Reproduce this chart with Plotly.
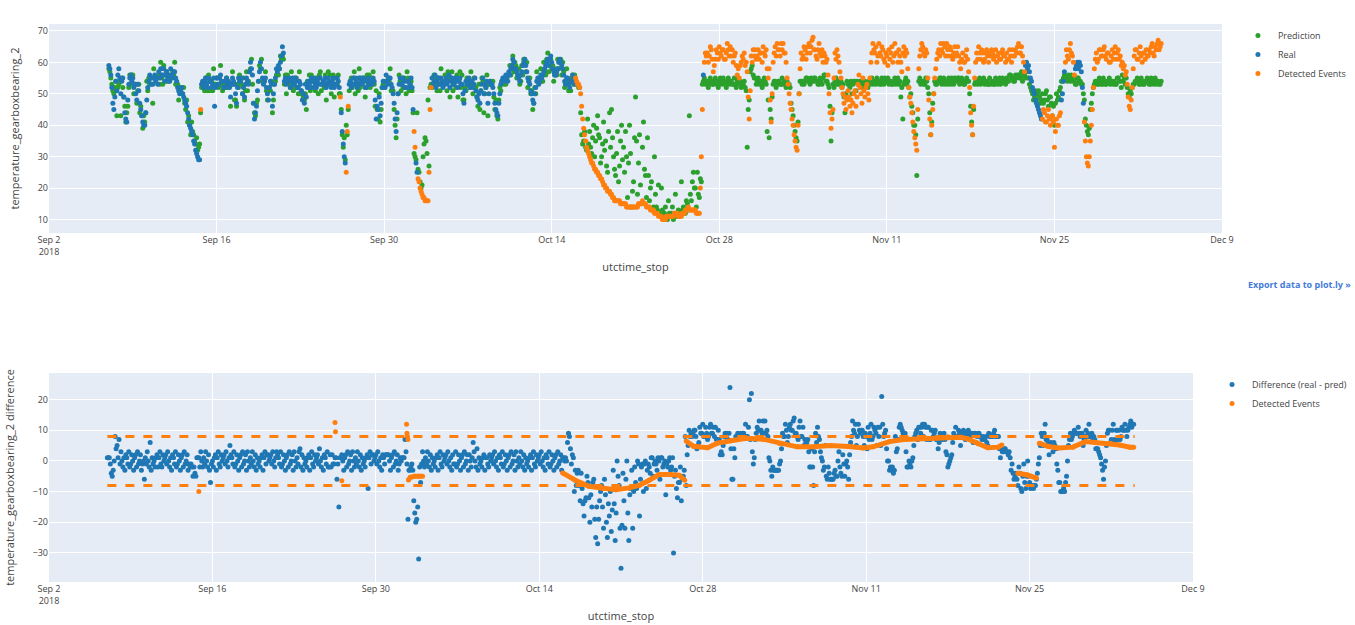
import numpy as np
import pandas as pd
import plotly.graph_objects as go

# ---------------- data ----------------
series_start = "2018-09-07 00:00"   # 12 readings per day, every 2 hours
series_step = "2h"

# temperature_gearboxbearing_2, measured (one row per day)
real_temp = [
    59, 58, 56, 52, 47, 45, 49, 54, 51, 56, 58, 55,  # Sep 7
    50, 54, 55, 49, 44, 42, 41, 48, 53, 55, 56, 54,  # Sep 8
    55, 52, 53, 50, 48, 53, 51, 47, 45, 43, 41, 40,  # Sep 9
    40, 44, 48, 52, 54, 56, 55, 53, 53, 55, 56, 54,  # Sep 10
    55, 53, 57, 55, 58, 56, 56, 58, 54, 56, 57, 55,  # Sep 11
    56, 54, 58, 56, 55, 57, 57, 55, 54, 52, 51, 50,  # Sep 12
    51, 52, 50, 49, 48, 47, 46, 44, 42, 40, 39, 38,  # Sep 13
    37, 35, 34, 32, 31, 30, 29, 29, 45, 53, 54, 52,  # Sep 14
    54, 55, 53, 52, 55, 54, 54, 52, 53, 55, 46, 52,  # Sep 15
    55, 53, 53, 55, 56, 54, 54, 52, 52, 54, 55, 53,  # Sep 16
    54, 52, 49, 53, 55, 54, 53, 50, 47, 52, 55, 54,  # Sep 17
    54, 55, 50, 52, 49, 53, 55, 54, 53, 57, 60, 58,  # Sep 18
    56, 47, 42, 44, 46, 51, 54, 57, 60, 58, 55, 53,  # Sep 19
    54, 55, 52, 50, 48, 52, 54, 53, 46, 50, 53, 55,  # Sep 20
    58, 57, 59, 58, 60, 62, 65, 63, 54, 55, 53, 54,  # Sep 21
    54, 55, 52, 54, 55, 53, 53, 55, 54, 52, 52, 54,  # Sep 22
    53, 51, 48, 50, 47, 53, 49, 52, 54, 53, 52, 55,  # Sep 23
    54, 52, 55, 53, 52, 54, 53, 55, 55, 53, 53, 54,  # Sep 24
    54, 55, 52, 53, 55, 54, 53, 52, 54, 55, 52, 53,  # Sep 25
    53, 55, 54, 52, 49, 44, 38, 34, 30, 28, 25, 38,  # Sep 26
    46, 53, 54, 52, 53, 55, 55, 53, 54, 52, 53, 55,  # Sep 27
    55, 54, 53, 55, 54, 52, 52, 54, 55, 53, 53, 54,  # Sep 28
    53, 55, 54, 48, 42, 46, 45, 49, 43, 47, 52, 54,  # Sep 29
    54, 52, 56, 54, 53, 55, 55, 53, 52, 50, 47, 42,  # Sep 30
    38, 44, 50, 53, 55, 53, 53, 55, 54, 52, 52, 54,  # Oct 1
    54, 52, 53, 55, 52, 45, 38, 33, 28, 25, 23, 22,  # Oct 2
    20, 19, 18, 17, 17, 16, 16, 16, 16, 25, 45, 52,  # Oct 3
    55, 53, 54, 56, 52, 54, 55, 53, 53, 55, 54, 52,  # Oct 4
    53, 54, 55, 53, 54, 56, 52, 54, 55, 53, 53, 55,  # Oct 5
    54, 55, 52, 54, 55, 53, 53, 50, 47, 51, 54, 53,  # Oct 6
    53, 55, 52, 54, 54, 52, 53, 55, 51, 49, 48, 50,  # Oct 7
    47, 51, 53, 55, 50, 53, 52, 54, 47, 50, 54, 53,  # Oct 8
    53, 52, 50, 47, 45, 44, 43, 47, 50, 53, 54, 55,  # Oct 9
    55, 54, 56, 55, 54, 57, 56, 58, 59, 61, 60, 58,  # Oct 10
    58, 57, 56, 55, 54, 56, 57, 59, 60, 61, 59, 57,  # Oct 11
    55, 54, 53, 51, 50, 48, 47, 50, 52, 54, 55, 53,  # Oct 12
    54, 56, 55, 56, 57, 58, 59, 60, 61, 59, 61, 62,  # Oct 13
    60, 58, 57, 56, 56, 57, 58, 60, 61, 60, 59, 58,  # Oct 14
    56, 54, 53, 55, 55, 53, 52, 54, 54, 56, 55, 53,  # Oct 15
    55, 54, 53, 53, 52, 50, 46, 42, 39, 37, 35, 33,  # Oct 16
    32, 31, 30, 29, 28, 28, 27, 26, 26, 25, 25, 24,  # Oct 17
    24, 23, 23, 22, 21, 21, 20, 20, 19, 19, 19, 18,  # Oct 18
    18, 17, 17, 16, 16, 16, 16, 16, 16, 15, 15, 15,  # Oct 19
    15, 15, 15, 14, 14, 14, 14, 14, 14, 14, 14, 14,  # Oct 20
    14, 14, 14, 15, 15, 15, 15, 16, 15, 15, 15, 14,  # Oct 21
    14, 14, 14, 13, 13, 13, 13, 12, 12, 12, 12, 11,  # Oct 22
    11, 11, 11, 10, 10, 10, 10, 11, 11, 11, 11, 11,  # Oct 23
    11, 11, 11, 12, 12, 12, 12, 11, 11, 11, 11, 12,  # Oct 24
    12, 12, 13, 13, 13, 14, 13, 13, 13, 13, 13, 13,  # Oct 25
    13, 12, 12, 12, 12, 20, 30, 45, 56, 60, 63, 62,  # Oct 26
    63, 60, 62, 65, 64, 61, 57, 59, 61, 64, 63, 61,  # Oct 27
    65, 63, 62, 64, 64, 61, 61, 63, 66, 64, 62, 65,  # Oct 28
    62, 64, 60, 62, 63, 59, 56, 58, 55, 59, 60, 62,  # Oct 29
    61, 63, 59, 60, 57, 49, 42, 51, 62, 60, 64, 62,  # Oct 30
    64, 61, 62, 64, 61, 63, 63, 60, 65, 63, 62, 64,  # Oct 31
    58, 55, 58, 48, 41, 50, 60, 63, 65, 62, 66, 64,  # Nov 1
    64, 62, 66, 64, 66, 63, 63, 60, 55, 53, 50, 47,  # Nov 2
    45, 42, 40, 37, 35, 33, 32, 40, 50, 58, 63, 61,  # Nov 3
    62, 65, 64, 61, 63, 65, 66, 63, 65, 67, 68, 64,  # Nov 4
    64, 62, 61, 64, 66, 63, 62, 64, 60, 63, 62, 60,  # Nov 5
    61, 56, 50, 44, 39, 42, 45, 55, 63, 61, 64, 62,  # Nov 6
    60, 57, 55, 52, 50, 47, 49, 45, 48, 51, 49, 46,  # Nov 7
    48, 44, 47, 50, 51, 46, 49, 53, 56, 52, 50, 47,  # Nov 8
    55, 51, 49, 52, 53, 50, 48, 55, 60, 63, 66, 64,  # Nov 9
    63, 65, 60, 62, 66, 63, 62, 65, 64, 61, 60, 63,  # Nov 10
    62, 59, 64, 61, 63, 65, 60, 62, 66, 63, 63, 60,  # Nov 11
    64, 62, 60, 57, 63, 65, 62, 64, 63, 58, 52, 49,  # Nov 12
    47, 44, 41, 38, 36, 34, 32, 45, 58, 62, 64, 66,  # Nov 13
    65, 63, 62, 64, 63, 55, 48, 42, 37, 40, 45, 50,  # Nov 14
    55, 58, 61, 63, 64, 62, 66, 64, 63, 66, 65, 62,  # Nov 15
    66, 64, 62, 65, 64, 62, 61, 63, 65, 62, 63, 65,  # Nov 16
    62, 60, 58, 61, 63, 60, 60, 62, 64, 61, 57, 52,  # Nov 17
    44, 40, 37, 46, 55, 60, 63, 61, 65, 63, 61, 64,  # Nov 18
    63, 60, 61, 63, 64, 62, 60, 63, 62, 64, 63, 61,  # Nov 19
    62, 64, 60, 62, 63, 61, 61, 63, 64, 62, 62, 60,  # Nov 20
    63, 61, 61, 64, 62, 60, 64, 62, 62, 64, 63, 65,  # Nov 21
    66, 63, 63, 65, 62, 60, 57, 59, 60, 58, 59, 57,  # Nov 22
    55, 54, 52, 51, 50, 48, 47, 46, 45, 44, 43, 42,  # Nov 23
    42, 45, 44, 41, 41, 43, 45, 42, 40, 42, 43, 41,  # Nov 24
    33, 38, 42, 40, 40, 43, 44, 48, 50, 54, 57, 60,  # Nov 25
    64, 62, 61, 64, 66, 63, 62, 60, 56, 58, 59, 60,  # Nov 26
    58, 60, 59, 57, 52, 47, 41, 35, 30, 28, 27, 30,  # Nov 27
    35, 40, 45, 52, 58, 61, 63, 60, 61, 64, 64, 62,  # Nov 28
    62, 64, 65, 62, 61, 63, 63, 60, 60, 62, 64, 61,  # Nov 29
    63, 65, 61, 63, 64, 61, 62, 59, 60, 58, 59, 56,  # Nov 30
    57, 53, 49, 46, 45, 48, 52, 58, 62, 64, 64, 61,  # Dec 1
    61, 63, 65, 62, 60, 63, 63, 61, 64, 62, 62, 64,  # Dec 2
    63, 65, 66, 63, 62, 65, 64, 66, 67, 64, 65, 66,  # Dec 3
]

# model prediction, same time stamps
pred_temp = [
    58, 57, 55, 53, 51, 50, 52, 54, 43, 52, 53, 54,  # Sep 7
    43, 55, 52, 49, 46, 41, 44, 46, 52, 56, 53, 56,  # Sep 8
    56, 50, 53, 53, 47, 51, 53, 44, 46, 43, 39, 43,  # Sep 9
    41, 44, 54, 51, 55, 53, 55, 55, 47, 58, 55, 55,  # Sep 10
    55, 55, 56, 53, 60, 55, 53, 59, 56, 54, 57, 54,  # Sep 11
    54, 55, 55, 56, 57, 56, 60, 53, 53, 53, 48, 52,  # Sep 12
    52, 50, 50, 52, 47, 45, 48, 41, 43, 40, 37, 41,  # Sep 13
    38, 37, 35, 34, 36, 32, 33, 34, 44, 52, 53, 54,  # Sep 14
    51, 55, 55, 51, 56, 51, 54, 54, 51, 58, 53, 53,  # Sep 15
    55, 55, 52, 53, 59, 53, 51, 53, 54, 52, 55, 52,  # Sep 16
    52, 53, 46, 53, 57, 53, 48, 48, 46, 53, 52, 56,  # Sep 17
    55, 53, 50, 55, 48, 51, 57, 51, 54, 57, 58, 61,  # Sep 18
    53, 47, 44, 43, 47, 48, 54, 59, 58, 61, 54, 54,  # Sep 19
    54, 57, 51, 48, 51, 51, 51, 54, 44, 48, 53, 54,  # Sep 20
    56, 58, 56, 58, 62, 61, 62, 61, 53, 56, 50, 56,  # Sep 21
    55, 53, 52, 57, 54, 51, 55, 52, 55, 52, 50, 57,  # Sep 22
    50, 51, 50, 49, 48, 50, 45, 54, 52, 56, 51, 56,  # Sep 23
    54, 54, 54, 51, 55, 53, 50, 56, 57, 51, 53, 53,  # Sep 24
    52, 56, 48, 53, 57, 53, 56, 50, 53, 56, 49, 55,  # Sep 25
    55, 53, 56, 50, 50, 45, 37, 33, 36, 29, 40, 37,  # Sep 26
    45, 51, 54, 55, 52, 53, 57, 50, 55, 52, 51, 58,  # Sep 27
    52, 54, 55, 54, 55, 49, 52, 56, 53, 56, 52, 55,  # Sep 28
    53, 57, 53, 46, 51, 45, 42, 50, 41, 45, 52, 53,  # Sep 29
    52, 53, 53, 54, 55, 54, 58, 51, 51, 51, 45, 40,  # Sep 30
    36, 42, 50, 56, 54, 51, 55, 52, 55, 52, 50, 57,  # Oct 1
    55, 51, 53, 54, 51, 44, 31, 30, 29, 44, 26, 25,  # Oct 2
    22, 20, 21, 30, 34, 36, 35, 31, 48, 27, 52, 53,  # Oct 3
    52, 53, 56, 55, 53, 51, 55, 55, 51, 58, 53, 53,  # Oct 4
    53, 56, 54, 51, 57, 55, 49, 55, 57, 51, 53, 54,  # Oct 5
    52, 56, 49, 54, 57, 52, 56, 48, 48, 52, 51, 55,  # Oct 6
    54, 53, 52, 57, 53, 50, 55, 52, 52, 49, 46, 53,  # Oct 7
    45, 51, 55, 54, 44, 50, 52, 56, 43, 53, 53, 54,  # Oct 8
    53, 54, 49, 45, 48, 43, 42, 48, 52, 51, 54, 54,  # Oct 9
    53, 55, 53, 55, 56, 56, 59, 56, 58, 62, 57, 60,  # Oct 10
    59, 55, 56, 58, 53, 54, 59, 56, 61, 61, 57, 60,  # Oct 11
    52, 54, 55, 50, 51, 45, 47, 52, 50, 57, 54, 54,  # Oct 12
    54, 58, 54, 54, 60, 57, 56, 61, 63, 57, 61, 61,  # Oct 13
    58, 59, 54, 56, 58, 56, 61, 58, 60, 61, 56, 60,  # Oct 14
    57, 52, 53, 58, 54, 51, 54, 51, 55, 56, 53, 56,  # Oct 15
    54, 53, 53, 52, 52, 44, 37, 34, 35, 38, 33, 32,  # Oct 16
    42, 34, 38, 33, 31, 36, 40, 30, 35, 39, 43, 37,  # Oct 17
    36, 28, 30, 34, 41, 32, 35, 27, 25, 38, 44, 33,  # Oct 18
    45, 36, 30, 26, 24, 31, 38, 22, 27, 35, 40, 29,  # Oct 19
    33, 25, 38, 30, 17, 28, 40, 31, 14, 19, 22, 36,  # Oct 20
    49, 35, 18, 28, 37, 21, 15, 33, 41, 26, 24, 17,  # Oct 21
    36, 24, 16, 20, 22, 13, 14, 30, 18, 14, 13, 21,  # Oct 22
    12, 11, 20, 13, 11, 12, 14, 10, 10, 16, 12, 11,  # Oct 23
    12, 14, 10, 12, 18, 11, 11, 13, 12, 11, 22, 13,  # Oct 24
    14, 12, 12, 16, 15, 13, 43, 18, 16, 22, 25, 20,  # Oct 25
    20, 14, 25, 18, 17, 23, 22, 53, 54, 55, 53, 54,  # Oct 26
    54, 52, 53, 55, 54, 53, 53, 54, 55, 53, 54, 52,  # Oct 27
    53, 55, 54, 53, 55, 54, 53, 52, 54, 55, 53, 54,  # Oct 28
    54, 53, 53, 55, 53, 52, 54, 55, 53, 54, 52, 53,  # Oct 29
    53, 54, 52, 51, 33, 45, 48, 57, 58, 59, 56, 55,  # Oct 30
    55, 53, 54, 55, 53, 54, 54, 52, 53, 55, 54, 53,  # Oct 31
    38, 48, 36, 45, 42, 49, 53, 54, 54, 52, 53, 54,  # Nov 1
    54, 53, 53, 55, 53, 54, 53, 52, 54, 53, 53, 52,  # Nov 2
    47, 45, 43, 40, 38, 36, 35, 41, 50, 54, 54, 53,  # Nov 3
    54, 53, 54, 55, 55, 54, 54, 53, 55, 54, 54, 55,  # Nov 4
    55, 54, 54, 53, 53, 55, 54, 53, 55, 56, 56, 54,  # Nov 5
    54, 53, 52, 46, 35, 44, 53, 52, 54, 55, 53, 54,  # Nov 6
    53, 54, 54, 52, 53, 49, 44, 50, 54, 53, 53, 52,  # Nov 7
    54, 50, 53, 54, 54, 51, 54, 53, 53, 54, 54, 52,  # Nov 8
    53, 52, 54, 53, 53, 52, 54, 53, 54, 55, 53, 54,  # Nov 9
    54, 53, 55, 54, 54, 53, 53, 55, 54, 53, 55, 54,  # Nov 10
    54, 55, 53, 54, 54, 53, 53, 54, 55, 53, 54, 55,  # Nov 11
    53, 54, 49, 52, 42, 53, 54, 55, 53, 54, 52, 49,  # Nov 12
    50, 46, 44, 40, 40, 37, 24, 42, 54, 55, 53, 54,  # Nov 13
    54, 53, 53, 55, 54, 52, 50, 44, 37, 41, 47, 50,  # Nov 14
    54, 53, 53, 54, 54, 55, 55, 53, 54, 55, 53, 54,  # Nov 15
    54, 53, 55, 54, 53, 55, 54, 53, 55, 54, 54, 55,  # Nov 16
    55, 53, 54, 55, 54, 53, 53, 54, 55, 54, 54, 50,  # Nov 17
    46, 41, 37, 45, 53, 54, 54, 53, 54, 55, 53, 54,  # Nov 18
    54, 55, 53, 54, 54, 53, 53, 55, 53, 54, 54, 53,  # Nov 19
    53, 55, 54, 53, 54, 55, 53, 54, 55, 54, 54, 53,  # Nov 20
    55, 54, 54, 56, 56, 55, 55, 54, 54, 56, 55, 56,  # Nov 21
    56, 55, 55, 57, 54, 56, 56, 55, 57, 55, 55, 53,  # Nov 22
    52, 51, 50, 48, 49, 51, 48, 50, 51, 49, 47, 48,  # Nov 23
    50, 47, 48, 50, 51, 48, 46, 49, 49, 47, 43, 46,  # Nov 24
    40, 47, 50, 48, 49, 51, 52, 54, 54, 55, 56, 55,  # Nov 25
    55, 54, 56, 55, 54, 56, 55, 54, 54, 53, 53, 55,  # Nov 26
    55, 54, 54, 53, 53, 50, 48, 42, 40, 38, 37, 39,  # Nov 27
    45, 47, 50, 52, 53, 54, 54, 53, 53, 55, 54, 53,  # Nov 28
    53, 55, 54, 53, 53, 54, 54, 55, 53, 54, 54, 53,  # Nov 29
    54, 53, 53, 55, 55, 54, 54, 52, 56, 54, 55, 53,  # Nov 30
    55, 52, 50, 49, 51, 50, 52, 53, 53, 54, 54, 55,  # Dec 1
    54, 53, 53, 55, 54, 53, 53, 54, 54, 55, 54, 53,  # Dec 2
    53, 55, 54, 53, 54, 55, 53, 54, 54, 53, 53, 54,  # Dec 3
]

# periods flagged as events (real value drawn orange)
event_periods = [
    ("2018-09-14 15:00", "2018-09-14 17:00"),
    ("2018-09-26 07:00", "2018-09-26 09:00"),
    ("2018-09-26 19:00", "2018-09-27 01:00"),
    ("2018-10-02 11:00", "2018-10-02 15:00"),
    ("2018-10-02 19:00", "2018-10-03 23:00"),
    ("2018-10-15 23:00", "2018-10-26 15:00"),
    ("2018-10-26 17:00", "2018-11-22 13:00"),
    ("2018-11-23 23:00", "2018-11-25 13:00"),
    ("2018-11-25 21:00", "2018-11-26 17:00"),
    ("2018-11-27 11:00", "2018-12-04 00:00"),
]

# detection threshold on the difference
threshold = 8
threshold_span = ("2018-09-07 00:00", "2018-12-04 00:00")

# detected events on the difference: isolated points
diff_event_point_times = ["2018-09-14 20:00", "2018-09-26 12:00", "2018-09-26 13:00",
                          "2018-09-27 02:00", "2018-10-02 15:00", "2018-10-02 16:00",
                          "2018-10-02 17:00", "2018-10-02 18:00"]
diff_event_point_values = [-10, 12.5, 9.5, -6.5, 12, 9, 8, 7]

# detected events on the difference: smoothed level during each event
diff_event_seg1_times = ["2018-10-02 19:00", "2018-10-02 23:00", "2018-10-03 08:00",
                         "2018-10-03 16:00", "2018-10-04 00:00"]
diff_event_seg1_values = [-6.2, -5.3, -5.0, -5.0, -5.0]

diff_event_seg2_times = ["2018-10-16 00:00", "2018-10-17 02:00", "2018-10-18 06:00",
                         "2018-10-19 10:00", "2018-10-20 13:00", "2018-10-21 17:00",
                         "2018-10-22 13:00", "2018-10-23 10:00", "2018-10-24 07:00",
                         "2018-10-25 04:00", "2018-10-26 00:00", "2018-10-26 11:00"]
diff_event_seg2_values = [-3.9, -6.3, -8.3, -9.0, -9.4, -8.8, -8.0, -6.3, -4.4, -4.4, -4.7, -6.3]

diff_event_seg3_times = ["2018-10-26 14:00", "2018-10-27 05:00", "2018-10-28 10:00",
                         "2018-10-29 06:00", "2018-10-30 10:00", "2018-10-31 18:00",
                         "2018-11-02 04:00", "2018-11-03 14:00", "2018-11-05 02:00",
                         "2018-11-06 12:00", "2018-11-07 22:00", "2018-11-09 12:00",
                         "2018-11-10 18:00", "2018-11-11 14:00", "2018-11-13 00:00",
                         "2018-11-14 05:00", "2018-11-15 14:00", "2018-11-17 02:00",
                         "2018-11-18 00:00", "2018-11-19 02:00", "2018-11-19 17:00",
                         "2018-11-20 14:00", "2018-11-21 10:00", "2018-11-22 07:00",
                         "2018-11-22 15:00"]
diff_event_seg3_values = [6.5, 4.8, 4.3, 5.8, 6.6, 7.4, 7.1, 5.7, 4.6, 4.6, 5.0, 4.7, 4.2,
                          4.6, 6.3, 7.0, 7.2, 7.5, 7.9, 7.7, 7.2, 5.6, 4.3, 4.5, 5.2]

diff_event_seg4_times = ["2018-11-24 00:00", "2018-11-24 20:00", "2018-11-25 14:00"]
diff_event_seg4_values = [-4.0, -4.6, -5.6]

diff_event_seg5_times = ["2018-11-25 20:00", "2018-11-26 15:00", "2018-11-27 12:00",
                         "2018-11-28 17:00", "2018-11-29 19:00", "2018-11-30 17:00",
                         "2018-12-01 22:00", "2018-12-02 17:00", "2018-12-03 14:00",
                         "2018-12-03 22:00"]
diff_event_seg5_values = [5.8, 4.7, 4.2, 4.5, 6.3, 6.0, 5.8, 5.2, 4.5, 4.5]

# ---------------- derived ----------------
times = pd.date_range(series_start, periods=len(real_temp), freq=series_step)
real = np.array(real_temp, dtype=float)
pred = np.array(pred_temp, dtype=float)
difference = real - pred

is_event = np.zeros(len(times), dtype=bool)
for a, b in event_periods:
    is_event |= (times >= pd.Timestamp(a)) & (times <= pd.Timestamp(b))

segments = [
    (diff_event_seg1_times, diff_event_seg1_values),
    (diff_event_seg2_times, diff_event_seg2_values),
    (diff_event_seg3_times, diff_event_seg3_values),
    (diff_event_seg4_times, diff_event_seg4_values),
    (diff_event_seg5_times, diff_event_seg5_values),
]
line_x, line_y = [], []
for tx, vy in segments:
    line_x += list(tx) + [None]
    line_y += list(vy) + [None]
ev_x = list(diff_event_point_times)
ev_y = list(diff_event_point_values)
for tx, vy in segments:
    ev_x += list(tx)
    ev_y += list(vy)

BLUE, ORANGE, GREEN = "#1f77b4", "#ff7f0e", "#2ca02c"
MS = 5

fig = go.Figure()
# ---- top panel ----
fig.add_trace(go.Scatter(x=times, y=pred, mode="markers", name="Prediction",
                         marker=dict(color=GREEN, size=MS), xaxis="x", yaxis="y",
                         legend="legend"))
fig.add_trace(go.Scatter(x=times[~is_event], y=real[~is_event], mode="markers", name="Real",
                         marker=dict(color=BLUE, size=MS), xaxis="x", yaxis="y",
                         legend="legend"))
fig.add_trace(go.Scatter(x=times[is_event], y=real[is_event], mode="markers",
                         name="Detected Events", marker=dict(color=ORANGE, size=MS),
                         xaxis="x", yaxis="y", legend="legend"))
# ---- bottom panel ----
fig.add_trace(go.Scatter(x=times, y=difference, mode="markers", name="Difference (real - pred)",
                         marker=dict(color=BLUE, size=MS), xaxis="x2", yaxis="y2",
                         legend="legend2"))
fig.add_trace(go.Scatter(x=ev_x, y=ev_y, mode="markers", name="Detected Events",
                         marker=dict(color=ORANGE, size=MS), xaxis="x2", yaxis="y2",
                         legend="legend2"))
fig.add_trace(go.Scatter(x=line_x, y=line_y, mode="lines", showlegend=False,
                         line=dict(color=ORANGE, width=5), connectgaps=False,
                         xaxis="x2", yaxis="y2", hoverinfo="skip"))
for sign in (1, -1):
    fig.add_trace(go.Scatter(x=list(threshold_span), y=[sign * threshold] * 2, mode="lines",
                             showlegend=False, line=dict(color=ORANGE, width=3, dash="dash"),
                             xaxis="x2", yaxis="y2", hoverinfo="skip"))

x_range = ["2018-09-02 00:00", "2018-12-09 00:00"]
tick_font = dict(family="Open Sans, sans-serif", size=9, color="#444")
title_font = dict(family="Open Sans, sans-serif", size=11, color="#444")
DAY14 = 14 * 24 * 3600 * 1000

fig.update_layout(
    template="plotly",
    width=1355, height=625, autosize=False,
    margin=dict(l=49, r=133, t=24, b=43, autoexpand=False),
    paper_bgcolor="white", plot_bgcolor="#E5ECF6",
    font=dict(family="Open Sans, sans-serif", size=9, color="#444"),
    xaxis=dict(domain=[0, 1], anchor="y", range=x_range, tick0="2018-09-02", dtick=DAY14,
               tickfont=tick_font,
               title=dict(text="utctime_stop", font=title_font, standoff=6),
               gridcolor="white", automargin=False),
    yaxis=dict(domain=[0.6254, 1], anchor="x", range=[5.7, 72.2], dtick=10,
               tickfont=tick_font, gridcolor="white", zeroline=False, automargin=False,
               title=dict(text="temperature_gearboxbearing_2", font=title_font)),
    xaxis2=dict(domain=[0, 0.9753], anchor="y2", range=x_range, tick0="2018-09-02",
                dtick=DAY14, tickfont=tick_font, gridcolor="white", automargin=False,
                title=dict(text="utctime_stop", font=title_font, standoff=6)),
    yaxis2=dict(domain=[0, 0.3746], anchor="x2", range=[-39.5, 28.7], dtick=10,
                tickfont=tick_font, gridcolor="white", zeroline=False, automargin=False,
                title=dict(text="temperature_gearboxbearing_2 difference", font=title_font)),
    legend=dict(x=1.0136, y=1.0054, xanchor="left", yanchor="top",
                font=dict(family="Open Sans, sans-serif", size=9, color="#444"),
                bgcolor="rgba(0,0,0,0)"),
    legend2=dict(x=0.9915, y=0.380, xanchor="left", yanchor="top",
                 font=dict(family="Open Sans, sans-serif", size=9, color="#444"),
                 bgcolor="rgba(0,0,0,0)"),
    annotations=[dict(text="<b>Export data to plot.ly »</b>", xref="paper", yref="paper",
                      x=1.1117, y=0.5323, xanchor="right", yanchor="middle", showarrow=False,
                      font=dict(family="Open Sans, sans-serif", size=9, color="#447adb"))],
)

fig.write_html("out.html")
